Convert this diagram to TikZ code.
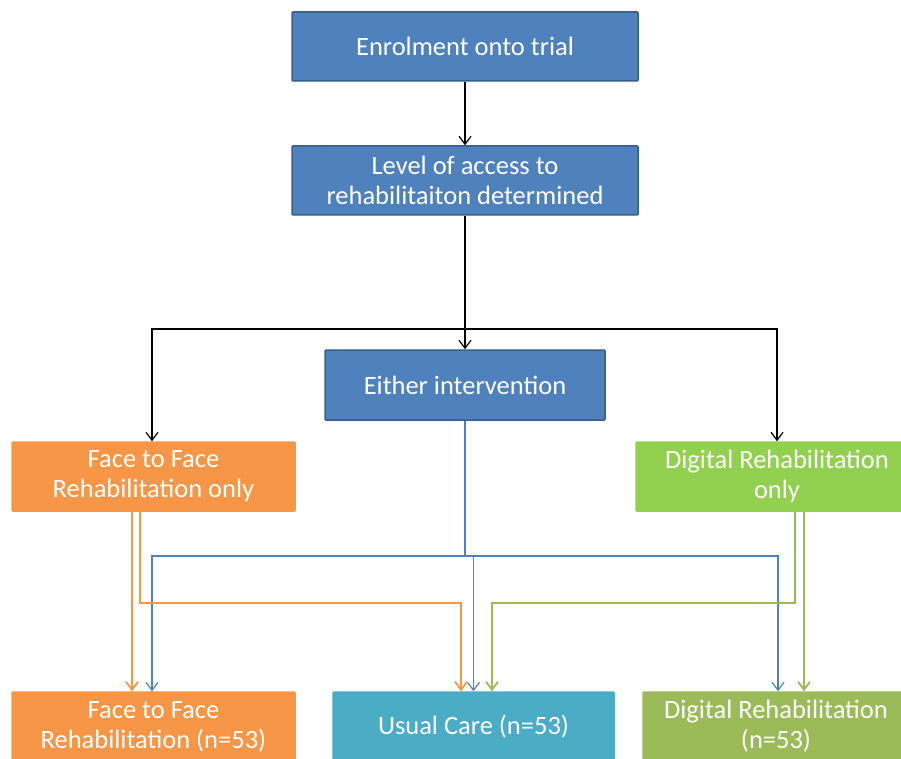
\documentclass[tikz,border=0pt]{standalone}
\usepackage{fontspec}
\setmainfont{Carlito}
\usepackage{tikz}
\usetikzlibrary{arrows.meta}

\definecolor{boxblue}{HTML}{4F81BD}
\definecolor{edgeblue}{HTML}{385D8A}
\definecolor{boxorange}{HTML}{F79646}
\definecolor{boxlime}{HTML}{92D050}
\definecolor{boxteal}{HTML}{4BACC6}
\definecolor{boxolive}{HTML}{9BBB59}

\begin{document}
\begin{tikzpicture}[x=1pt,y=-1pt,
    box/.style={rectangle, rounded corners=1pt, align=center, text=white,
      font=\fontsize{26.5}{30}\selectfont, inner sep=0pt, line width=1.5pt},
    bluebox/.style={box, fill=boxblue, draw=edgeblue},
    orangebox/.style={box, fill=boxorange, draw=boxorange},
    limebox/.style={box, fill=boxlime, draw=boxlime},
    tealbox/.style={box, fill=boxteal, draw=boxteal},
    olivebox/.style={box, fill=boxolive, draw=boxolive},
    tip/.style={-{Straight Barb[length=8pt,width=12pt]}},
    blk/.style={black, line width=1.2pt},
    bluecon/.style={boxblue, line width=1.2pt},
    orangecon/.style={boxorange, line width=1.8pt},
    olivecon/.style={boxolive, line width=1.8pt}]
      \useasboundingbox (0,0) rectangle (901,759);

      % 1. 上面三個藍色方塊
      \node[bluebox, minimum width=346, minimum height=69] (enrol) at (465,46.5) {Enrolment onto trial};
      \node[bluebox, minimum width=346, minimum height=69] (level) at (465,180.5) {Level of access to\\rehabilitaiton determined};
      \node[bluebox, minimum width=280, minimum height=70] (either) at (465,385) {Either intervention};

      % 2. 中間兩個方塊
      \node[orangebox, minimum width=283, minimum height=69] (ftfonly) at (153.5,476.5) {Face to Face\\Rehabilitation only};
      \node[limebox, minimum width=282, minimum height=69] (digonly) at (777,476.5) {Digital Rehabilitation\\only};

      % 3. 下面三個方塊
      \node[orangebox, minimum width=283, minimum height=69] (ftfbot) at (153.5,726.5) {Face to Face\\Rehabilitation (n=53)};
      \node[tealbox, minimum width=281, minimum height=69] (usual) at (473.5,726.5) {Usual Care (n=53)};
      \node[olivebox, minimum width=266, minimum height=69] (digbot) at (776,726.5) {Digital Rehabilitation\\(n=53)};

      % 4. 分岔點
      \coordinate (split) at (465,329);
      \coordinate (bsplit) at (465,556);

      % 5. 黑色箭頭
      \draw[blk, tip] (enrol) -- (level);
      \draw[blk, tip] (level) -- (either);
      \draw[blk, tip] (split) -| ([xshift=-1.5]ftfonly.north);
      \draw[blk, tip] (split) -| (digonly.north);

      % 6. 藍色箭頭
      \draw[bluecon] (either) -- (bsplit);
      \draw[bluecon, tip] (bsplit) -| ([xshift=-1.5]ftfbot.north);
      \draw[bluecon, tip] (bsplit) -| (usual.north);
      \draw[bluecon, tip] (bsplit) -| ([xshift=2]digbot.north);

      % 7. 橘色箭頭
      \draw[orangecon, tip] ([xshift=-21.5]ftfonly.south) -- ([xshift=-21.5]ftfbot.north);
      \draw[orangecon, tip] ([xshift=-13.5]ftfonly.south) |- (300,603) -| ([xshift=-12.5]usual.north);

      % 8. 綠色箭頭
      \draw[olivecon, tip] ([xshift=27]digonly.south) -- ([xshift=28]digbot.north);
      \draw[olivecon, tip] ([xshift=18]digonly.south) |- (600,603) -| ([xshift=18.5]usual.north);
    \end{tikzpicture}
\end{document}
